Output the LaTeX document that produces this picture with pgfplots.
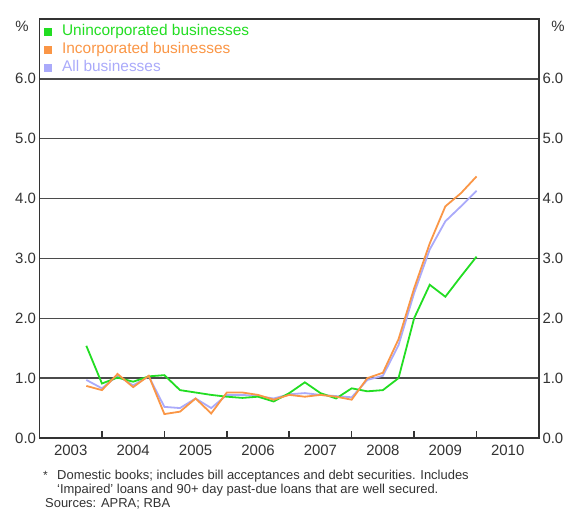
\documentclass[border=0pt]{standalone}
\usepackage{pgfplots}
\pgfplotsset{compat=1.18}
\usepackage{fontspec}
\setmainfont{Liberation Sans}
\definecolor{cgreen}{RGB}{34,221,34}
\definecolor{corange}{RGB}{250,150,70}
\definecolor{cblue}{RGB}{170,170,250}
\definecolor{gridc}{RGB}{75,75,75}
\definecolor{txt}{RGB}{50,50,50}

\pgfplotstableread{
x       green  orange  all
2003.75 1.54   0.87    0.97
2004.00 0.91   0.80    0.83
2004.25 1.01   1.07    1.04
2004.50 0.94   0.85    0.88
2004.75 1.03   1.04    1.03
2005.00 1.05   0.40    0.52
2005.25 0.80   0.44    0.50
2005.50 0.76   0.66    0.66
2005.75 0.72   0.41    0.50
2006.00 0.69   0.76    0.72
2006.25 0.67   0.76    0.72
2006.50 0.69   0.72    0.70
2006.75 0.61   0.64    0.66
2007.00 0.75   0.72    0.73
2007.25 0.93   0.69    0.75
2007.50 0.75   0.72    0.72
2007.75 0.66   0.69    0.70
2008.00 0.83   0.64    0.68
2008.25 0.78   1.00    0.97
2008.50 0.80   1.09    1.04
2008.75 1.00   1.65    1.55
2009.00 2.00   2.50    2.42
2009.25 2.56   3.25    3.15
2009.50 2.36   3.87    3.62
2009.75 2.70   4.09    3.87
2010.00 3.03   4.37    4.13
}\datatable

\begin{document}
\begin{tikzpicture}
\useasboundingbox (-39.5bp,-72bp) rectangle (532.5bp,438bp);
\begin{axis}[
  scale only axis, width=499.5bp, height=419bp,
  xmin=2003, xmax=2011, ymin=0, ymax=7,
  axis line style={line width=1.5bp, draw=black!80},
  ytick={0,...,6}, yticklabels={0.0,1.0,2.0,3.0,4.0,5.0,6.0},
  ymajorgrids, major grid style={line width=1.5bp, gridc},
  ytick style={draw=none},
  xtick={2003.5,2004.5,...,2010.5},
  xticklabels={2003,2004,2005,2006,2007,2008,2009,2010},
  major x tick style={draw=none},
  minor xtick={2004,...,2010},
  minor tick length=7bp,
  minor x tick style={line width=1.5bp, black!80},
  tick align=inside,
  xtick pos=bottom, ytick pos=left,
  /pgf/number format/assume math mode=true,
  tick label style={font=\fontsize{15}{18}\selectfont, text=txt},
  xticklabel style={yshift=-4bp},
  legend cell align=left,
  legend style={at={(rel axis cs:0,1)}, anchor=north west, draw=none, fill=none,
    font=\fontsize{15.5}{18}\selectfont, inner xsep=4.5bp, inner ysep=5bp,
    row sep=2.5bp,
    nodes={inner sep=0.5bp, text height=11bp, text depth=3.5bp},
    /tikz/every odd column/.append style={column sep=10bp}},
  legend image code/.code={\fill (0bp,-3.5bp) rectangle (7bp,3.5bp);},
]
\addlegendimage{cgreen, fill=cgreen}
\addlegendentry{\textcolor{cgreen}{Unincorporated businesses}}
\addlegendimage{corange, fill=corange}
\addlegendentry{\textcolor{corange}{Incorporated businesses}}
\addlegendimage{cblue, fill=cblue}
\addlegendentry{\textcolor{cblue}{All businesses}}
\addplot[forget plot, cblue, line width=1.8bp] table[x=x, y=all] {\datatable};
\addplot[forget plot, cgreen, line width=1.8bp] table[x=x, y=green] {\datatable};
\addplot[forget plot, corange, line width=1.8bp] table[x=x, y=orange] {\datatable};
\end{axis}
\begin{axis}[
  scale only axis, width=499.5bp, height=419bp,
  xmin=2003, xmax=2011, ymin=0, ymax=7,
  hide x axis, axis y line*=right,
  axis line style={draw=none},
  ytick={0,...,6}, yticklabels={0.0,1.0,2.0,3.0,4.0,5.0,6.0},
  ytick style={draw=none},
  /pgf/number format/assume math mode=true,
  tick label style={font=\fontsize{15}{18}\selectfont, text=txt},
]
\end{axis}
\node[font=\fontsize{15}{18}\selectfont, text=txt] at (-17.5bp,412bp) {\%};
\node[font=\fontsize{15}{18}\selectfont, text=txt] at (518.5bp,412bp) {\%};
\node[font=\fontsize{12}{14}\selectfont, text=txt] at (6bp,-37bp) {*};
\node[anchor=west, font=\fontsize{13}{15}\selectfont, text=txt, inner sep=0pt] at (17.5bp,-38bp) {Domestic books; includes bill acceptances and debt securities. Includes};
\node[anchor=west, font=\fontsize{13}{15}\selectfont, text=txt, inner sep=0pt] at (17.5bp,-52bp) {`Impaired' loans and 90+ day past-due loans that are well secured.};
\node[anchor=west, font=\fontsize{13}{15}\selectfont, text=txt, inner sep=0pt] at (5.5bp,-66bp) {Sources: APRA; RBA};
\end{tikzpicture}
\end{document}
